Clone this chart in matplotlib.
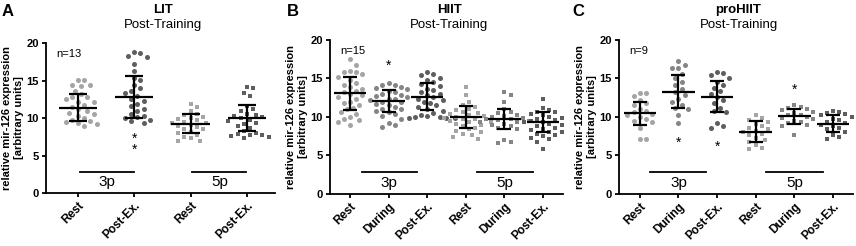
import matplotlib.pyplot as plt
import numpy as np

plt.rcParams['font.family'] = ['Liberation Sans', 'DejaVu Sans']

LIGHT = '#a5a5a5'
MID = '#858585'
DARK = '#5e5e5e'

# ---------------- data ----------------
# panel A - LIT
a_labels = ['Rest', 'Post-Ex.', 'Rest', 'Post-Ex.']
a_vals = [
    [15.1, 15.1, 14.4, 14.4, 14.3, 13.6, 13.2, 12.8, 12.8, 12.6, 12.2, 12.1, 11.8,
     11.5, 11.2, 11.0, 10.7, 10.5, 10.3, 10.0, 9.8, 9.6, 9.5, 9.3, 9.2, 9.0],
    [18.8, 18.7, 18.3, 18.2, 17.2, 16.3, 15.4, 15.1, 14.4, 14.0, 13.6, 13.3, 12.9,
     12.6, 12.3, 11.9, 11.6, 11.2, 11.0, 10.6, 10.3, 10.1, 10.0, 9.8, 9.6, 9.4],
    [11.9, 11.5, 11.0, 10.6, 10.4, 10.2, 10.0, 9.9, 9.7, 9.5, 9.4, 9.3, 9.1, 9.0,
     8.8, 8.6, 8.5, 8.2, 8.0, 7.8, 7.5, 7.3, 7.0, 6.9],
    [14.2, 14.0, 13.4, 12.9, 11.6, 11.2, 10.9, 10.6, 10.4, 10.3, 10.1, 10.0, 9.8,
     9.6, 9.4, 9.2, 9.0, 8.7, 8.3, 8.0, 7.9, 7.8, 7.7, 7.6, 7.5, 7.4],
]
a_mean = [11.4, 12.85, 9.25, 10.0]
a_sd = [1.85, 2.8, 1.25, 1.7]

# panel B - HIIT
b_labels = ['Rest', 'During', 'Post-Ex.', 'Rest', 'During', 'Post-Ex.']
b_vals = [
    [17.5, 16.8, 16.0, 15.9, 15.8, 15.6, 15.2, 14.8, 14.4, 14.2, 13.9, 13.7, 13.4, 13.2, 13.0,
     12.8, 12.6, 12.3, 12.0, 11.8, 11.5, 11.2, 11.0, 10.7, 10.4, 10.0, 9.8, 9.6, 9.3, 9.0],
    [14.4, 14.2, 14.1, 13.9, 13.8, 13.6, 13.4, 13.2, 13.0, 12.9, 12.7, 12.6, 12.4, 12.3, 12.2,
     12.0, 11.9, 11.7, 11.5, 11.3, 11.1, 11.0, 10.8, 10.6, 10.4, 10.1, 9.8, 9.2, 8.9, 8.7],
    [15.8, 15.6, 15.5, 15.0, 14.8, 14.6, 14.3, 14.0, 13.7, 13.5, 13.2, 13.0, 12.8, 12.6, 12.4,
     12.2, 12.0, 11.8, 11.5, 11.3, 11.0, 10.8, 10.5, 10.3, 10.1, 10.0, 9.9, 9.9, 9.9, 10.0],
    [13.9, 12.8, 12.0, 11.6, 11.3, 11.1, 10.9, 10.7, 10.5, 10.4, 10.2, 10.1, 10.0, 9.9, 9.8,
     9.7, 9.5, 9.4, 9.3, 9.1, 9.0, 8.8, 8.6, 8.4, 8.2, 8.0, 7.8, 7.6, 7.4, 7.2],
    [13.2, 12.9, 12.0, 11.0, 10.7, 10.5, 10.3, 10.1, 10.0, 9.9, 9.8, 9.7, 9.6, 9.5, 9.4,
     9.3, 9.1, 9.0, 8.8, 8.6, 8.4, 7.0, 6.7, 6.6],
    [12.4, 11.2, 10.9, 10.7, 10.6, 10.4, 10.2, 10.0, 9.9, 9.7, 9.6, 9.5, 9.4, 9.3, 9.2,
     9.1, 9.0, 8.8, 8.6, 8.4, 8.3, 8.1, 8.0, 7.8, 7.7, 7.5, 7.3, 7.1, 6.8, 5.9],
]
b_mean = [13.07, 12.1, 12.65, 10.0, 9.7, 9.3]
b_sd = [2.15, 1.4, 1.75, 1.45, 1.3, 1.3]

# panel C - proHIIT
c_labels = ['Rest', 'During', 'Post-Ex.', 'Rest', 'During', 'Post-Ex.']
c_vals = [
    [13.1, 13.1, 12.7, 12.2, 11.8, 11.5, 11.0, 10.8, 10.6, 10.4, 10.2, 10.0, 9.8, 9.5, 9.3, 8.6, 7.2, 7.2],
    [17.3, 16.8, 16.4, 16.3, 15.6, 15.0, 14.6, 14.1, 13.6, 13.2, 12.8, 12.4, 12.0, 11.6, 11.2, 11.0, 10.3, 9.2],
    [15.8, 15.7, 15.4, 15.0, 14.6, 14.2, 13.8, 13.4, 13.0, 12.6, 12.2, 11.8, 11.2, 10.8, 10.6, 9.2, 8.8, 8.6],
    [10.2, 9.9, 9.6, 9.4, 9.1, 8.8, 8.6, 8.4, 8.2, 8.0, 7.8, 7.6, 7.3, 7.0, 6.7, 6.4, 6.0, 5.8],
    [11.5, 11.3, 11.2, 11.0, 10.9, 10.7, 10.5, 10.3, 10.2, 10.0, 9.9, 9.7, 9.5, 9.4, 9.2, 9.0, 8.8, 7.7],
    [10.8, 10.7, 10.5, 10.4, 10.2, 10.0, 9.8, 9.6, 9.4, 9.2, 9.0, 8.8, 8.6, 8.4, 8.0, 7.7, 7.4, 7.1],
]
c_mean = [10.5, 13.3, 12.65, 8.1, 10.1, 9.1]
c_sd = [1.5, 2.15, 2.05, 1.35, 0.95, 1.1]

# significance marks (group index, y, text)
a_stars = [(1, 6.5, '*\n*')]
b_stars = [(1, 16.6, '*')]
c_stars = [(1, 6.7, '*'), (2, 6.1, '*'), (4, 13.5, '*')]


def swarm(vals, xscale, yscale, d=6.2):
    # simple beeswarm: place points from top to bottom, closest free slot to centre
    vals = np.asarray(vals)
    xs = np.zeros(len(vals))
    placed = []
    cands = [0.0] + [s * k * d / 2 for k in range(1, 40) for s in (1, -1)]
    for i in np.argsort(vals)[::-1]:
        y = vals[i] * yscale
        for c in cands:
            if all((c - px) ** 2 + (y - py) ** 2 >= d * d for px, py in placed):
                break
        placed.append((c, y))
        xs[i] = c / xscale
    return xs


def draw_panel(ax, labels, vals, mean, sd, colors, markers, stars, xlim, xpx,
               lines, line_txt, n_txt, mean_w, cap):
    ax.set_xlim(*xlim)
    ax.set_ylim(0, 20)
    for i, v in enumerate(vals):
        off = swarm(v, xpx, 7.6)
        size = 13 if markers[i] == 'o' else 11
        ax.scatter(i + off, v, s=size, c=colors[i], marker=markers[i],
                   linewidths=0, zorder=2)
    x = np.arange(len(vals))
    ax.hlines(mean, x - mean_w, x + mean_w, color='black', lw=1.6, zorder=3)
    ax.errorbar(x, mean, yerr=sd, fmt='none', ecolor='black', elinewidth=1.6,
                capsize=cap, capthick=1.6, zorder=3)
    for gi, ys, s in stars:
        ax.text(gi, ys, s, ha='center', va='center', fontsize=10, linespacing=0.75)
    for (x0, x1), (tx, lab) in zip(lines, line_txt):
        ax.plot([x0, x1], [2.85, 2.85], color='black', lw=1.3)
        ax.text(tx, 1.45, lab, ha='center', va='center', fontsize=11)
    ax.text(0.045, 0.93, n_txt, transform=ax.transAxes, ha='left', va='center',
            fontsize=8)
    ax.set_xticks(x)
    ax.set_xticklabels(labels, rotation=45, ha='right', rotation_mode='anchor',
                       fontsize=8.5, fontweight='bold')
    ax.set_yticks([0, 5, 10, 15, 20])
    ax.set_yticklabels(['0', '5', '10', '15', '20'], fontsize=8, fontweight='bold')
    ax.spines['top'].set_visible(False)
    ax.spines['right'].set_visible(False)
    ax.spines['left'].set_linewidth(1.3)
    ax.spines['bottom'].set_linewidth(1.3)
    ax.tick_params(length=3, width=1.3, pad=2)
    ax.set_ylabel('relative mir-126 expression\n[arbitrary units]', fontsize=8,
                  fontweight='bold', labelpad=2, linespacing=1.25)


fig = plt.figure(figsize=(8.56, 2.46), dpi=100)

ax_a = fig.add_axes([0.0537, 0.2154, 0.2675, 0.6098])
draw_panel(ax_a, a_labels, a_vals, a_mean, a_sd, [LIGHT, DARK, LIGHT, DARK],
           ['o', 'o', 's', 's'], a_stars, (-0.57, 3.5), 56.3,
           [(0.04, 0.99), (2.03, 2.98)], [(0.51, '3p'), (2.52, '5p')], 'n=13',
           0.34, 6.5)

ax_b = fig.add_axes([0.3855, 0.2114, 0.2722, 0.626])
draw_panel(ax_b, b_labels, b_vals, b_mean, b_sd, [LIGHT, MID, DARK] * 2,
           ['o'] * 3 + ['s'] * 3, b_stars, (-0.52, 5.52), 38.6,
           [(0.3, 1.74), (3.29, 4.74)], [(1.0, '3p'), (4.0, '5p')], 'n=15',
           0.42, 5)

ax_c = fig.add_axes([0.7231, 0.2114, 0.2734, 0.626])
draw_panel(ax_c, c_labels, c_vals, c_mean, c_sd, [LIGHT, MID, DARK] * 2,
           ['o'] * 3 + ['s'] * 3, c_stars, (-0.54, 5.52), 38.6,
           [(0.26, 1.71), (3.26, 4.74)], [(1.0, '3p'), (4.0, '5p')], 'n=9',
           0.42, 5)

# titles and panel letters
for ax, name in [(ax_a, 'LIT'), (ax_b, 'HIIT'), (ax_c, 'proHIIT')]:
    pos = ax.get_position()
    cx = (pos.x0 + pos.x1) / 2
    fig.text(cx + 0.003, 1 - 10 / 246, name, ha='center', va='center',
             fontsize=9.5, fontweight='bold')
    fig.text(cx + 0.003, 1 - 25 / 246, 'Post-Training', ha='center', va='center',
             fontsize=9.5)

for x, letter in [(2 / 856, 'A'), (287 / 856, 'B'), (572 / 856, 'C')]:
    fig.text(x, 1 - 11 / 246, letter, ha='left', va='center', fontsize=12,
             fontweight='bold')

fig.savefig('out.png', dpi=100)
